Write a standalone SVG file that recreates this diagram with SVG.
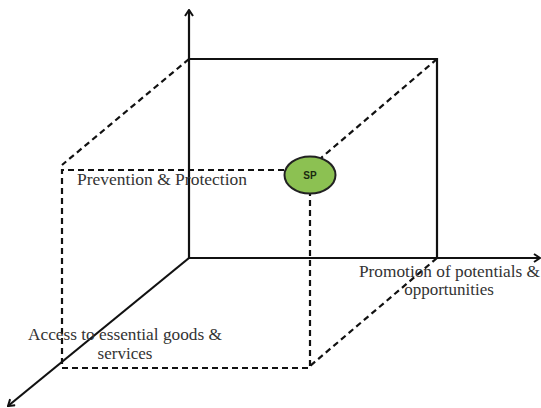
<svg xmlns="http://www.w3.org/2000/svg" width="541" height="408" viewBox="0 0 541 408">
<style>
.solid{stroke:#111;stroke-width:2.2;fill:none}
.dash{stroke:#111;stroke-width:2.2;fill:none;stroke-dasharray:6 4}
.lbl{font-family:"Liberation Serif","Times New Roman",serif;font-size:17px;fill:#333}
.sp{font-family:"Liberation Sans",Arial,sans-serif;font-size:10px;font-weight:bold;fill:#1a2a10}
</style>
<defs>
<marker id="arr" viewBox="0 0 10 10" refX="9" refY="5" markerWidth="10" markerHeight="10" markerUnits="userSpaceOnUse" orient="auto">
<path d="M3,1 L9,5 L3,9" fill="none" stroke="#111" stroke-width="2"/>
</marker>
</defs>
<g id="connectors">
<line class="solid" x1="189" y1="258" x2="189" y2="10" marker-end="url(#arr)"/>
<line class="solid" x1="189" y1="258" x2="540" y2="258" marker-end="url(#arr)"/>
<line class="solid" x1="189" y1="258" x2="8" y2="406" marker-end="url(#arr)"/>
<polyline class="solid" points="189,59 437,59 437,258"/>
<line class="dash" x1="189" y1="59" x2="62" y2="165"/>
<polyline class="dash" points="284,170 62,170 62,368 310,368 310,193"/>
<line class="dash" x1="437" y1="59" x2="321" y2="158"/>
<line class="dash" x1="437" y1="258" x2="310" y2="366"/>
</g>
<g id="sp">
<ellipse cx="310" cy="175" rx="25.5" ry="18.5" fill="#8cc152" stroke="#222" stroke-width="2"/>
<text class="sp" x="310" y="178.5" text-anchor="middle">SP</text>
</g>
<g id="prevention">
<text class="lbl" x="77" y="185" textLength="170" lengthAdjust="spacingAndGlyphs">Prevention &amp; Protection</text>
</g>
<g id="promotion">
<text class="lbl" x="359" y="277" textLength="181" lengthAdjust="spacingAndGlyphs">Promotion of potentials &amp;</text>
<text class="lbl" x="449" y="295" text-anchor="middle">opportunities</text>
</g>
<g id="access">
<text class="lbl" x="28" y="340" textLength="194" lengthAdjust="spacingAndGlyphs">Access to essential goods &amp;</text>
<text class="lbl" x="125" y="359" text-anchor="middle">services</text>
</g>
</svg>
